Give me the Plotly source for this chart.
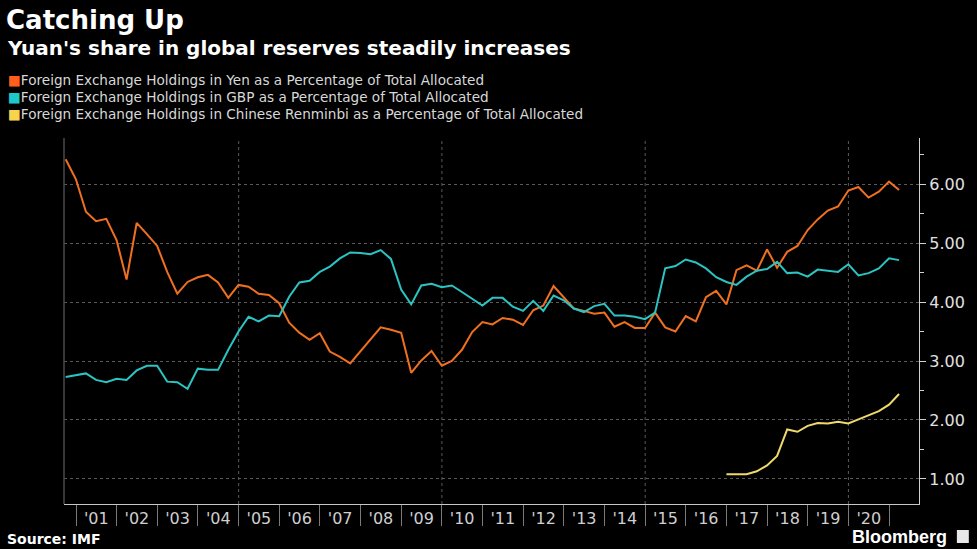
import plotly.graph_objects as go

# ---------------- data (IMF COFER, % of total allocated reserves) ----------------
# quarterly observations, quarter-end dates from 2000Q3 to 2021Q1
quarter_ends = []
for yr in range(2000, 2022):
    for md in ["03-31", "06-30", "09-30", "12-31"]:
        d = f"{yr}-{md}"
        if "2000-09-30" <= d <= "2021-03-31":
            quarter_ends.append(d)

yen_share = [
    6.42, 6.08, 5.53, 5.37, 5.41, 5.05, 4.38, 5.34, 5.15, 4.95,
    4.51, 4.14, 4.34, 4.42, 4.46, 4.33, 4.07, 4.29, 4.26, 4.14,
    4.12, 3.98, 3.65, 3.48, 3.36, 3.47, 3.16, 3.07, 2.96, 3.17,
    3.37, 3.57, 3.53, 3.48, 2.80, 3.01, 3.17, 2.92, 3.00, 3.19,
    3.49, 3.66, 3.62, 3.73, 3.70, 3.61, 3.86, 3.94, 4.27, 4.08,
    3.89, 3.85, 3.80, 3.82, 3.58, 3.66, 3.56, 3.56, 3.82, 3.57,
    3.50, 3.76, 3.67, 4.08, 4.19, 3.96, 4.54, 4.62, 4.53, 4.89,
    4.58, 4.85, 4.95, 5.22, 5.40, 5.55, 5.62, 5.89, 5.95, 5.77,
    5.87, 6.04, 5.90,
]

gbp_share = [
    2.73, 2.76, 2.79, 2.68, 2.64, 2.70, 2.68, 2.84, 2.92, 2.92,
    2.65, 2.64, 2.53, 2.87, 2.85, 2.85, 3.19, 3.50, 3.75, 3.67,
    3.77, 3.76, 4.09, 4.33, 4.36, 4.51, 4.60, 4.74, 4.84, 4.83,
    4.81, 4.88, 4.73, 4.21, 3.96, 4.28, 4.31, 4.25, 4.28, 4.17,
    4.06, 3.94, 4.07, 4.07, 3.92, 3.85, 4.02, 3.85, 4.11, 4.03,
    3.89, 3.83, 3.93, 3.97, 3.77, 3.77, 3.75, 3.71, 3.82, 4.57,
    4.61, 4.72, 4.67, 4.57, 4.42, 4.34, 4.29, 4.43, 4.53, 4.56,
    4.68, 4.49, 4.50, 4.43, 4.55, 4.53, 4.51, 4.64, 4.45, 4.49,
    4.57, 4.74, 4.71,
]

# renminbi reported from 2016Q4 onward
rmb_quarters = quarter_ends[65:]
rmb_share = [
    1.08, 1.08, 1.08, 1.13, 1.23, 1.39, 1.84, 1.80, 1.90, 1.95,
    1.94, 1.97, 1.94, 2.01, 2.08, 2.15, 2.26, 2.44,
]

years = list(range(2001, 2021))
year_labels = ["'" + str(y)[2:] for y in years]
year_mid = [f"{y}-07-02" for y in years]
year_start = [f"{y}-01-01" for y in range(2001, 2022)]
grid_years = ["2005-01-01", "2010-01-01", "2015-01-01", "2020-01-01"]

series_names = [
    "Foreign Exchange Holdings in Yen as a Percentage of Total Allocated",
    "Foreign Exchange Holdings in GBP as a Percentage of Total Allocated",
    "Foreign Exchange Holdings in Chinese Renminbi as a Percentage of Total Allocated",
]

# ---------------- style ----------------
ORANGE = "#f0701f"
TEAL = "#2cc3c3"
YELLOW = "#efd96c"
LEG_COLORS = ["#ff5f1a", "#1fc8c8", "#f6d54c"]

L, R, T, B = 64, 55, 138, 45
W, H = 977, 549
PW, PH = W - L - R, H - T - B


def px_x(px):
    return (px - L) / PW


def px_y(py):
    return (H - B - py) / PH


fig = go.Figure()
fig.add_trace(go.Scatter(x=quarter_ends, y=yen_share, mode="lines",
                         line=dict(color=ORANGE, width=2), name=series_names[0]))
fig.add_trace(go.Scatter(x=quarter_ends, y=gbp_share, mode="lines",
                         line=dict(color=TEAL, width=2), name=series_names[1]))
fig.add_trace(go.Scatter(x=rmb_quarters, y=rmb_share, mode="lines",
                         line=dict(color=YELLOW, width=2), name=series_names[2]))

shapes = []
for g in grid_years:
    shapes.append(dict(type="line", xref="x", yref="paper", x0=g, x1=g, y0=0, y1=1,
                       line=dict(color="#5a5a5a", width=1, dash="dot"), layer="below"))
shapes.append(dict(type="line", xref="paper", yref="paper", x0=0, x1=0, y0=0, y1=1,
                   line=dict(color="#4a4a4a", width=1.5)))
# small Bloomberg badge next to the wordmark
shapes.append(dict(type="rect", xref="paper", yref="paper",
                   x0=px_x(960), x1=px_x(972), y0=px_y(543), y1=px_y(530),
                   fillcolor="#e8e8e8", line=dict(width=0)))

annotations = [
    dict(text="<b>Catching Up</b>", x=px_x(4), y=px_y(20), xref="paper", yref="paper",
         xanchor="left", yanchor="middle", showarrow=False,
         font=dict(family="DejaVu Sans", size=26, color="white")),
    dict(text="<b>Yuan's share in global reserves steadily increases</b>", x=px_x(5), y=px_y(48),
         xref="paper", yref="paper", xanchor="left", yanchor="middle", showarrow=False,
         font=dict(family="DejaVu Sans", size=20, color="white")),
    dict(text="<b>Source: IMF</b>", x=px_x(5), y=px_y(539), xref="paper", yref="paper",
         xanchor="left", yanchor="middle", showarrow=False,
         font=dict(family="DejaVu Sans", size=14, color="white")),
    dict(text="<b>Bloomberg</b>", x=px_x(952), y=px_y(537), xref="paper", yref="paper",
         xanchor="right", yanchor="middle", showarrow=False,
         font=dict(family="Liberation Sans, Arial", size=18, color="white")),
]
leg_y = [80, 97, 114]
for name, col, yy in zip(series_names, LEG_COLORS, leg_y):
    annotations.append(dict(
        text=f"<span style='color:{col}'>■</span>{name}", x=px_x(6), y=px_y(yy),
        xref="paper", yref="paper", xanchor="left", yanchor="middle", showarrow=False,
        font=dict(family="DejaVu Sans", size=13.6, color="#d8d8d8")))

fig.update_layout(
    width=W, height=H,
    paper_bgcolor="black", plot_bgcolor="black",
    margin=dict(l=L, r=R, t=T, b=B),
    showlegend=False,
    shapes=shapes,
    annotations=annotations,
    xaxis=dict(
        type="date", range=["2000-09-15", "2021-09-26"],
        tickmode="array", tickvals=year_mid, ticktext=year_labels, ticks="",
        showgrid=False, zeroline=False,
        showline=True, linecolor="#c8c8c8", linewidth=1,
        tickfont=dict(family="DejaVu Sans", size=16, color="#cfcfcf"),
        minor=dict(tickmode="array", tickvals=year_start, ticks="outside", ticklen=21,
                   tickwidth=1, tickcolor="#7a7a7a", showgrid=False),
    ),
    yaxis=dict(
        side="right", range=[0.576, 6.78],
        tickmode="linear", tick0=0, dtick=1, tickformat=".2f",
        ticks="outside", ticklen=6, tickwidth=1, tickcolor="#d0d0d0",
        showline=True, linecolor="#d0d0d0", linewidth=1.2,
        showgrid=True, gridcolor="#5a5a5a", griddash="dot", gridwidth=1,
        zeroline=False,
        tickfont=dict(family="DejaVu Sans", size=16, color="#e0e0e0"),
        minor=dict(dtick=0.5, tick0=0, ticks="outside", ticklen=4, tickwidth=1,
                   tickcolor="#d0d0d0", showgrid=False),
    ),
)

fig.write_html("out.html")
